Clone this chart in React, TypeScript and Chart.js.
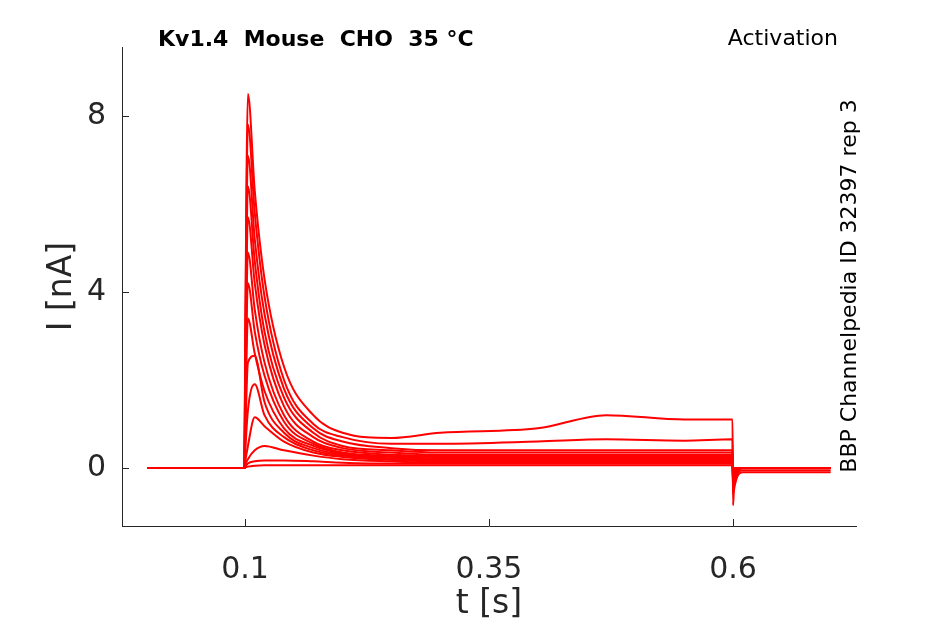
import React, { useEffect, useRef } from "react";
import { Chart, registerables } from "chart.js";
Chart.register(...registerables);

const T = [0, 0.0995, 0.1, 0.103, 0.11, 0.12, 0.14, 0.17, 0.2, 0.25, 0.3, 0.4, 0.47, 0.55, 0.5995, 0.6, 0.601, 0.61, 0.7];
const traces: number[][] = [
  [0, 0, 2.0, 8.5, 6.3, 4.3, 2.3, 1.2, 0.8, 0.68, 0.8, 0.9, 1.2, 1.1, 1.1, -0.85, -0.5, -0.1, -0.1],
  [0, 0, 1.8, 7.8, 5.8, 3.9, 2.0, 1.0, 0.7, 0.55, 0.55, 0.6, 0.65, 0.62, 0.65, -0.6, -0.4, -0.05, -0.05],
  [0, 0, 1.6, 7.1, 5.2, 3.5, 1.8, 0.9, 0.6, 0.45, 0.4, 0.4, 0.4, 0.4, 0.4, -0.5, -0.3, 0, 0],
  [0, 0, 1.4, 6.4, 4.7, 3.1, 1.6, 0.8, 0.5, 0.4, 0.35, 0.35, 0.35, 0.35, 0.35, -0.4, -0.25, 0, 0],
  [0, 0, 1.2, 5.7, 4.2, 2.8, 1.4, 0.7, 0.45, 0.35, 0.3, 0.3, 0.3, 0.3, 0.3, -0.35, -0.2, 0, 0],
  [0, 0, 1.0, 4.9, 3.6, 2.4, 1.2, 0.6, 0.4, 0.3, 0.28, 0.27, 0.27, 0.27, 0.27, -0.3, -0.15, 0, 0],
  [0, 0, 0.8, 4.2, 3.1, 2.1, 1.05, 0.55, 0.35, 0.27, 0.25, 0.25, 0.25, 0.25, 0.25, -0.25, -0.1, 0, 0],
  [0, 0, 0.6, 3.4, 2.6, 1.75, 0.9, 0.5, 0.33, 0.25, 0.22, 0.22, 0.22, 0.22, 0.22, -0.2, -0.1, 0, 0],
  [0, 0, 0.4, 2.4, 2.55, 1.5, 0.8, 0.45, 0.3, 0.22, 0.2, 0.2, 0.2, 0.2, 0.2, -0.15, -0.05, 0, 0],
  [0, 0, 0.25, 1.3, 1.9, 1.2, 0.7, 0.4, 0.28, 0.2, 0.18, 0.18, 0.18, 0.18, 0.18, -0.1, -0.05, 0, 0],
  [0, 0, 0.1, 0.5, 1.15, 0.95, 0.6, 0.35, 0.25, 0.18, 0.15, 0.15, 0.15, 0.15, 0.15, -0.05, 0, 0, 0],
  [0, 0, 0.05, 0.2, 0.4, 0.5, 0.4, 0.28, 0.2, 0.15, 0.12, 0.12, 0.12, 0.12, 0.12, 0, 0, 0, 0],
  [0, 0, 0.02, 0.1, 0.15, 0.17, 0.17, 0.15, 0.12, 0.1, 0.1, 0.1, 0.1, 0.1, 0.1, 0, 0, 0, 0],
  [0, 0, 0.01, 0.03, 0.05, 0.06, 0.06, 0.06, 0.06, 0.06, 0.06, 0.06, 0.06, 0.06, 0.06, 0, 0, 0, 0],
];
const xTicks = [0.1, 0.35, 0.6];
const yTicks = [0, 4, 8];

const FONT = "'DejaVu Sans', sans-serif";
const INK = "#262626";

const textPlugin = {
  id: "texts",
  afterDraw(chart: any) {
    const { ctx, chartArea: a } = chart;
    ctx.save();
    ctx.fillStyle = "#000";
    ctx.textBaseline = "middle";
    ctx.font = `bold 22px ${FONT}`;
    ctx.textAlign = "left";
    ctx.fillText("Kv1.4  Mouse  CHO  35 °C", 158, 40);
    ctx.font = `22px ${FONT}`;
    ctx.textAlign = "right";
    ctx.fillText("Activation", 838, 39);
    ctx.save();
    ctx.translate(850, 286);
    ctx.rotate(-Math.PI / 2);
    ctx.textAlign = "center";
    ctx.font = `22px ${FONT}`;
    ctx.fillText("BBP Channelpedia ID 32397 rep 3", 0, 0);
    ctx.restore();
    ctx.strokeStyle = INK;
    ctx.lineWidth = 1;
    const xs = chart.scales.x, ys = chart.scales.y;
    for (const v of xTicks) {
      const px = Math.round(xs.getPixelForValue(v)) + 0.5;
      ctx.beginPath(); ctx.moveTo(px, a.bottom); ctx.lineTo(px, a.bottom - 7); ctx.stroke();
    }
    for (const v of yTicks) {
      const py = Math.round(ys.getPixelForValue(v)) + 0.5;
      ctx.beginPath(); ctx.moveTo(a.left, py); ctx.lineTo(a.left + 7, py); ctx.stroke();
    }
    ctx.fillStyle = INK;
    ctx.font = `33px ${FONT}`;
    ctx.textAlign = "center";
    ctx.fillText("t [s]", (a.left + a.right) / 2, 604);
    ctx.save();
    ctx.translate(62, (a.top + a.bottom) / 2);
    ctx.rotate(-Math.PI / 2);
    ctx.fillText("I [nA]", 0, 0);
    ctx.restore();
    ctx.restore();
  },
};

export default function App() {
  const ref = useRef<HTMLCanvasElement>(null);
  useEffect(() => {
    document.body.style.margin = "0";
    const chart = new Chart(ref.current!, {
      type: "line",
      data: {
        datasets: traces.map((v) => ({
          data: T.map((t, i) => ({ x: t, y: v[i] })),
          borderColor: "#ff0000",
          borderWidth: 2,
          pointRadius: 0,
          cubicInterpolationMode: "monotone" as const,
        })),
      },
      options: {
        animation: false,
        responsive: false,
        layout: { padding: { top: 47, right: 89, left: 0, bottom: 0 } },
        plugins: { legend: { display: false }, tooltip: { enabled: false } },
        scales: {
          x: {
            type: "linear",
            min: -0.026,
            max: 0.726,
            afterBuildTicks: (s: any) => { s.ticks = xTicks.map((v) => ({ value: v })); },
            afterFit: (s: any) => { s.height = 98; },
            ticks: { font: { family: FONT, size: 30 }, color: INK, padding: 18, callback: (v: any) => String(v) },
            grid: { display: false },
            border: { display: true, color: INK, width: 1 },
          },
          y: {
            type: "linear",
            min: -1.32,
            max: 9.57,
            afterBuildTicks: (s: any) => { s.ticks = yTicks.map((v) => ({ value: v })); },
            afterFit: (s: any) => { s.width = 122; },
            ticks: { font: { family: FONT, size: 30 }, color: INK, padding: 8 },
            grid: { display: false },
            border: { display: true, color: INK, width: 1 },
          },
        },
      },
      plugins: [textPlugin],
    });
    return () => chart.destroy();
  }, []);
  return <canvas ref={ref} width={945} height={624} style={{ display: "block" }} />;
}
